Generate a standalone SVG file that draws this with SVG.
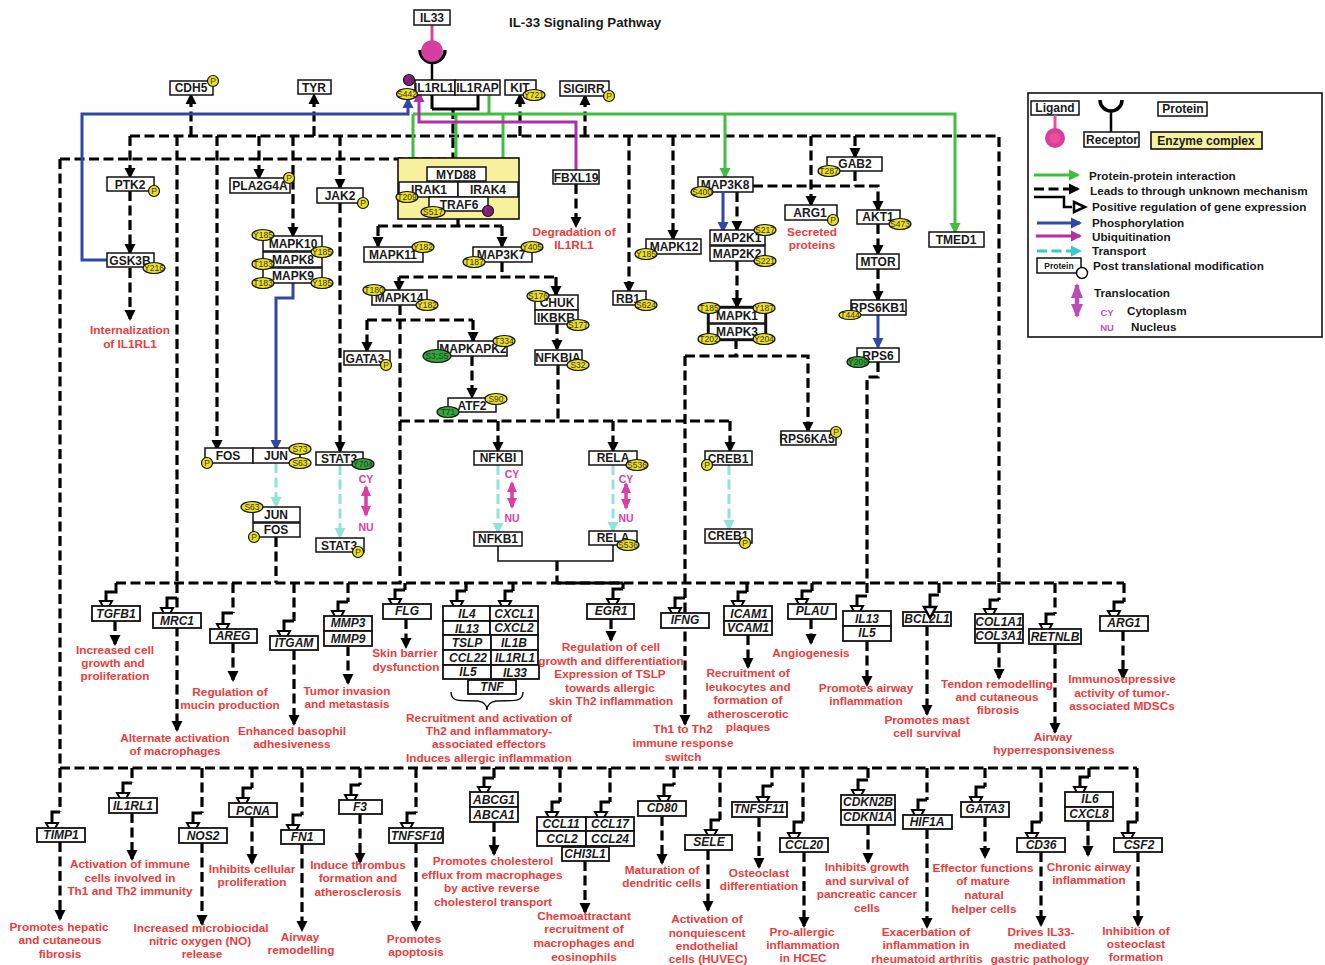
<svg xmlns="http://www.w3.org/2000/svg" width="1325" height="965" viewBox="0 0 1325 965">
<style>
text{font-family:"Liberation Sans",Arial,sans-serif;font-weight:bold;fill:#1a1a1a}
.t{font-size:12px;text-anchor:middle}
.g{font-size:12px;text-anchor:middle;font-style:italic}
.r{font-size:11.8px;text-anchor:middle;fill:#ef3b3b}
.l{font-size:11.7px}
.m{font-size:8.5px;font-weight:normal;text-anchor:middle;fill:#333}
.b{fill:#fff;stroke:#111;stroke-width:1.5}
.k{fill:#fff;stroke:#111;stroke-width:1.8}
.y{fill:#ecdf1e;stroke:#111;stroke-width:1.2}
.v{fill:#2ea836;stroke:#111;stroke-width:1.2}
.u{fill:#a3189a;stroke:#111;stroke-width:1.2}
.d,.s,.gr,.bl,.mg,.c{fill:none;stroke-width:3}
.d{stroke:#000;stroke-width:3.2;stroke-dasharray:10 4.5;marker-end:url(#a)}
.n{stroke:#000;fill:none;stroke-width:3.2;stroke-dasharray:10 4.5}
.s{stroke:#000;marker-end:url(#h)}
.gr{stroke:#3fbf3f;marker-end:url(#ag)}
.bl{stroke:#2f48a8;marker-end:url(#ab)}
.mg{stroke:#b02fa5;marker-end:url(#am)}
.c{stroke:#8fe3dc;stroke-dasharray:10 4.5;marker-end:url(#ac)}
.x{stroke:#d93fa6;stroke-width:3.5;fill:none;marker-start:url(#ap);marker-end:url(#ap)}
.cy{font-size:10.5px;text-anchor:middle;fill:#d93fa6}
</style>
<defs>
<marker id="a" markerUnits="userSpaceOnUse" markerWidth="12" markerHeight="12" refX="9" refY="6" orient="auto"><path d="M0,.5L11,6L0,11.5z" fill="#000"/></marker>
<marker id="ag" markerUnits="userSpaceOnUse" markerWidth="12" markerHeight="12" refX="9" refY="6" orient="auto"><path d="M0,.5L11,6L0,11.5z" fill="#3fbf3f"/></marker>
<marker id="ab" markerUnits="userSpaceOnUse" markerWidth="12" markerHeight="12" refX="9" refY="6" orient="auto"><path d="M0,.5L11,6L0,11.5z" fill="#2f48a8"/></marker>
<marker id="am" markerUnits="userSpaceOnUse" markerWidth="12" markerHeight="12" refX="9" refY="6" orient="auto"><path d="M0,.5L11,6L0,11.5z" fill="#b02fa5"/></marker>
<marker id="ac" markerUnits="userSpaceOnUse" markerWidth="12" markerHeight="12" refX="9" refY="6" orient="auto"><path d="M0,.5L11,6L0,11.5z" fill="#8fe3dc"/></marker>
<marker id="at" markerUnits="userSpaceOnUse" markerWidth="12" markerHeight="12" refX="9" refY="6" orient="auto"><path d="M0,.5L11,6L0,11.5z" fill="#3cc8c8"/></marker>
<marker id="ap" markerUnits="userSpaceOnUse" markerWidth="12" markerHeight="12" refX="9" refY="6" orient="auto-start-reverse"><path d="M0,1L11,6L0,11z" fill="#d93fa6"/></marker>
<marker id="h" markerUnits="userSpaceOnUse" markerWidth="18" markerHeight="18" refX="2" refY="8" orient="auto"><path d="M2,2L13,8L2,14z" fill="#fff" stroke="#000" stroke-width="2"/></marker>
</defs>
<rect width="1325" height="965" fill="#fff"/>
<text x="509" y="27" font-size="13.3" id="title">IL-33 Signaling Pathway</text>

<g id="connectors">
<path class="n" d="M453,109V159M60,159H453M60,159V768M130,136H999V583M60,768H1137M116,583H1124M177,136V583"/>
<path d="M557,583H623" stroke="#000" stroke-width="3"/>
<path class="d" d="M191,136V95"/><path class="d" d="M314,136V95"/><path class="d" d="M520,136V95"/><path class="d" d="M585,136V96"/>
<path class="d" d="M130,136V177"/><path class="d" d="M130,191V253"/><path class="d" d="M130,268V319"/>
<path class="d" d="M177,583V730"/><path class="d" d="M217,136V449"/><path class="d" d="M259,136V178"/><path class="d" d="M293,136V236"/>
<path class="d" d="M340,136V188"/><path class="d" d="M340,203V451"/>
<path class="d" d="M629,136V291"/><path class="d" d="M673,136V239"/><path class="d" d="M811,136V205"/><path class="d" d="M855,136V157"/>
<path class="n" d="M855,171V186"/><path class="d" d="M753,186H878V210"/>
<path class="d" d="M737,192V230"/><path class="d" d="M737,261V307"/><path class="n" d="M736,339V356"/>
<path class="d" d="M685,356H808V431"/><path class="d" d="M685,356V724"/>
<path class="d" d="M878,224V254"/><path class="d" d="M878,269V300"/><path class="n" d="M878,362V377H867V583"/>
<path class="n" d="M276,537V583"/>
<path class="n" d="M458,219V226M378,226H502"/><path class="d" d="M378,226V246"/><path class="d" d="M502,226V246"/>
<path class="n" d="M502,262V277M399,277H556"/><path class="d" d="M399,277V290"/><path class="d" d="M556,277V295"/>
<path class="n" d="M400,305V583M367,320H473M400,421H730M558,365V421"/>
<path class="d" d="M367,320V351"/><path class="d" d="M473,320V341"/><path class="d" d="M472,356V397"/><path class="d" d="M557,324V349"/>
<path class="d" d="M498,421V451"/><path class="d" d="M613,421V451"/><path class="d" d="M730,421V451"/>
<path class="d" d="M576,184V226"/>
<path d="M498,546V561H613V545" fill="none" stroke="#111" stroke-width="1.6"/><path class="n" d="M557,561V583"/>

<path class="gr" d="M413,114V180"/><path class="gr" d="M456,114V167"/><path class="gr" d="M503,114V180"/><path class="gr" d="M725,114V177"/>
<path class="gr" d="M413,114H955V232"/><path d="M489,95V114" stroke="#3fbf3f" stroke-width="3"/>
<path class="bl" d="M107,260H82V114H408V99"/><path class="bl" d="M723,193V231"/><path class="bl" d="M878,315V347"/><path class="bl" d="M293,283V298H276V449"/>
<path class="mg" d="M576,170V122H419V93"/>
<path class="c" d="M276,463V506"/><path class="c" d="M340,465V537"/><path class="c" d="M498,465V532"/><path class="c" d="M613,465V531"/><path class="c" d="M729,465V529"/>

<path d="M432,109V95M432,109H478V95" fill="none" stroke="#000" stroke-width="3"/>
<path d="M432,25V42" stroke="#d9439b" stroke-width="3"/>
<path d="M420,50A12.5,12.5 0 0 0 445,50" fill="none" stroke="#000" stroke-width="3.5"/><path d="M432,62V80" stroke="#000" stroke-width="2.5"/>

<path class="n" d="M233,583V613M294,583V621M348,583V602M405,583V590M466,583V591M513,583V591M623,583V589M747,583V592M812,583V591M867,583V596M939,583V595M999,583V600M1055,583V614M1124,583V602"/>
<path class="n" d="M60,768V812M132,768V783M202,768V813M252,768V788M302,768V815M360,768V785M416,768V813M494,768V778M560,768V802M610,768V802M674,768V785M720,768V820M772,768V786M803,768V822M868,768V780M927,768V800M985,768V787M1041,768V822M1089,768V777M1137,768V822"/>
<path class="s" d="M116,583V592H106V601"/><path class="s" d="M177,598H167V608"/><path class="s" d="M233,613H223V624"/><path class="s" d="M294,621H284V631"/><path class="s" d="M348,602H338V611"/><path class="s" d="M405,590H395V599"/><path class="s" d="M466,591H457V601"/><path class="s" d="M513,591H505V601"/><path class="s" d="M623,589H613V599"/><path class="s" d="M685,598H675V608"/><path class="s" d="M747,592H738V601"/><path class="s" d="M812,591H802V599"/><path class="s" d="M867,596H857V606"/><path class="s" d="M999,600H990V609"/><path class="s" d="M1055,614H1046V624"/><path class="s" d="M1124,602H1114V611"/>
<path d="M939,595H930V607" fill="none" stroke="#000" stroke-width="3"/>
<path class="s" d="M60,812H52V823"/><path class="s" d="M132,783H123V793"/><path class="s" d="M202,813H193V823"/><path class="s" d="M252,788H243V798"/><path class="s" d="M302,815H293V825"/><path class="s" d="M360,785H351V795"/><path class="s" d="M416,813H407V823"/><path class="s" d="M494,778H484V787"/><path class="s" d="M560,802H552V812"/><path class="s" d="M610,802H601V812"/><path class="s" d="M674,785H664V796"/><path class="s" d="M720,820H711V830"/><path class="s" d="M772,786H763V797"/><path class="s" d="M803,822H794V833"/><path class="s" d="M868,780H858V790"/><path class="s" d="M927,800H918V810"/><path class="s" d="M985,787H976V797"/><path class="s" d="M1041,822H1032V833"/><path class="s" d="M1089,777H1080V787"/><path class="s" d="M1137,822H1128V833"/>

<path class="d" d="M115,621V644"/><path class="d" d="M233,643V680"/><path class="d" d="M294,650V724"/><path class="d" d="M348,646V683"/><path class="d" d="M406,619V647"/><path class="d" d="M611,619V640"/><path class="d" d="M748,635V667"/><path class="d" d="M811,619V643"/><path class="d" d="M867,641V685"/><path class="d" d="M927,626V714"/><path class="d" d="M999,643V678"/><path class="d" d="M1055,644V732"/><path class="d" d="M1123,631V678"/>
<path class="d" d="M60,842V919"/><path class="d" d="M132,813V859"/><path class="d" d="M202,843V924"/><path class="d" d="M252,817V863"/><path class="d" d="M302,844V930"/><path class="d" d="M360,814V862"/><path class="d" d="M416,843V930"/><path class="d" d="M494,822V854"/><path class="d" d="M585,861V912"/><path class="d" d="M662,816V863"/><path class="d" d="M708,850V910"/><path class="d" d="M759,817V867"/><path class="d" d="M804,852V926"/><path class="d" d="M868,825V862"/><path class="d" d="M927,829V927"/><path class="d" d="M985,817V857"/><path class="d" d="M1041,852V925"/><path class="d" d="M1088,821V855"/><path class="d" d="M1138,852V925"/>
<path class="x" d="M366,487V515"/><path class="x" d="M512,483V507"/><path class="x" d="M626,484V508"/>
</g>

<g id="IL33"><rect class="b" x="414" y="10" width="36" height="15"/><text class="t" x="432" y="22">IL33</text></g>
<circle id="ligand" cx="432" cy="51" r="10.8" fill="#d43fa0"/>
<g id="IL1RL1-rec"><rect class="b" x="415" y="80" width="40" height="15"/><text class="t" x="434" y="92">IL1RL1</text><circle class="u" cx="409" cy="80" r="5.5"/><text class="m" x="409" y="83">Ub</text><ellipse class="y" cx="407" cy="94" rx="10.5" ry="5.5"/><text class="m" x="407" y="97">S442</text></g>
<g id="IL1RAP"><rect class="b" x="455" y="80" width="45" height="15"/><text class="t" x="477.5" y="92">IL1RAP</text></g>
<g id="KIT"><rect class="b" x="505" y="80" width="31" height="15"/><text class="t" x="520" y="92">KIT</text><ellipse class="y" cx="534" cy="95" rx="11" ry="5.5"/><text class="m" x="534" y="98">Y721</text></g>
<g id="SIGIRR"><rect class="b" x="560" y="81" width="49" height="15"/><text class="t" x="584" y="93">SIGIRR</text><circle class="y" cx="609" cy="96" r="5.5"/><text class="m" x="609" y="99">P</text></g>
<g id="CDH5"><rect class="b" x="170" y="81" width="43" height="14"/><text class="t" x="191" y="92">CDH5</text><circle class="y" cx="213" cy="81" r="5.5"/><text class="m" x="213" y="84">P</text></g>
<g id="TYR"><rect class="b" x="298" y="80" width="33" height="14"/><text class="t" x="314" y="92">TYR</text></g>
<g id="complex1"><rect x="398" y="158" width="121" height="61" fill="#f7f09c" stroke="#111" stroke-width="1.6"/><rect class="b" x="427" y="167" width="59" height="14"/><text class="t" x="456" y="179">MYD88</text><rect class="b" x="399" y="182" width="59" height="15"/><text class="t" x="429" y="194">IRAK1</text><rect class="b" x="458" y="182" width="60" height="15"/><text class="t" x="488" y="194">IRAK4</text><rect class="b" x="429" y="197" width="59" height="14"/><text class="t" x="459" y="209">TRAF6</text><ellipse class="y" cx="407" cy="197" rx="11" ry="5.5"/><text class="m" x="407" y="200">T209</text><ellipse class="y" cx="433" cy="212" rx="12" ry="5.5"/><text class="m" x="433" y="215">S517</text><circle class="u" cx="488" cy="211" r="5.5"/><text class="m" x="488" y="214">Ub</text></g>
<g id="FBXL19"><rect class="b" x="553" y="170" width="46" height="14"/><text class="t" x="576" y="182">FBXL19</text></g>
<g id="PTK2"><rect class="b" x="107" y="177" width="47" height="14"/><text class="t" x="130" y="189">PTK2</text><circle class="y" cx="154" cy="191" r="5.5"/><text class="m" x="154" y="194">P</text></g>
<g id="GSK3B"><rect class="b" x="107" y="253" width="47" height="14"/><text class="t" x="130" y="265">GSK3B</text><ellipse class="y" cx="154" cy="268" rx="11" ry="5.5"/><text class="m" x="154" y="271">Y216</text></g>
<g id="PLA2G4A"><rect class="b" x="230" y="178" width="60" height="15"/><text class="t" x="260" y="190">PLA2G4A</text><circle class="y" cx="289" cy="178" r="5.5"/><text class="m" x="289" y="181">P</text></g>
<g id="JAK2"><rect class="b" x="317" y="188" width="46" height="15"/><text class="t" x="340" y="200">JAK2</text><circle class="y" cx="363" cy="203" r="5.5"/><text class="m" x="363" y="206">P</text></g>
<g id="MAPK10-9"><rect class="b" x="263" y="236" width="59" height="15"/><text class="t" x="293" y="248">MAPK10</text><rect class="b" x="263" y="252" width="59" height="15"/><text class="t" x="293" y="264">MAPK8</text><rect class="b" x="263" y="268" width="59" height="15"/><text class="t" x="293" y="280">MAPK9</text><ellipse class="y" cx="263" cy="235" rx="11" ry="5.5"/><text class="m" x="263" y="238">Y185</text><ellipse class="y" cx="322" cy="252" rx="11" ry="5.5"/><text class="m" x="322" y="255">Y185</text><ellipse class="y" cx="263" cy="264" rx="11" ry="5.5"/><text class="m" x="263" y="267">T183</text><ellipse class="y" cx="263" cy="283" rx="11" ry="5.5"/><text class="m" x="263" y="286">T183</text><ellipse class="y" cx="322" cy="283" rx="11" ry="5.5"/><text class="m" x="322" y="286">Y185</text></g>
<g id="MAPK11"><rect class="b" x="364" y="247" width="59" height="15"/><text class="t" x="393" y="259">MAPK11</text><ellipse class="y" cx="423" cy="247" rx="11" ry="5.5"/><text class="m" x="423" y="250">Y182</text></g>
<g id="MAP3K7"><rect class="b" x="473" y="247" width="59" height="15"/><text class="t" x="501" y="259">MAP3K7</text><ellipse class="y" cx="474" cy="262" rx="11" ry="5.5"/><text class="m" x="474" y="265">T187</text><ellipse class="y" cx="532" cy="247" rx="11" ry="5.5"/><text class="m" x="532" y="250">Y405</text></g>
<g id="MAPK14"><rect class="b" x="372" y="290" width="55" height="15"/><text class="t" x="399" y="302">MAPK14</text><ellipse class="y" cx="374" cy="290" rx="11" ry="5.5"/><text class="m" x="374" y="293">T180</text><ellipse class="y" cx="427" cy="305" rx="11" ry="5.5"/><text class="m" x="427" y="308">Y182</text></g>
<g id="CHUK-IKBKB"><rect class="b" x="535" y="295" width="43" height="15"/><text class="t" x="557" y="307">CHUK</text><rect class="b" x="535" y="310" width="43" height="14"/><text class="t" x="556" y="322">IKBKB</text><ellipse class="y" cx="538" cy="296" rx="11" ry="5.5"/><text class="m" x="538" y="299">S176</text><ellipse class="y" cx="578" cy="325" rx="11" ry="5.5"/><text class="m" x="578" y="328">S177</text></g>
<g id="GATA3-n"><rect class="b" x="344" y="351" width="46" height="14"/><text class="t" x="365" y="363">GATA3</text><circle class="y" cx="386" cy="365" r="5.5"/><text class="m" x="386" y="368">P</text></g>
<g id="MAPKAPK2"><rect class="b" x="438" y="341" width="69" height="15"/><text class="t" x="473" y="353">MAPKAPK2</text><ellipse class="y" cx="504" cy="341" rx="11" ry="5.5"/><text class="m" x="504" y="344">T334</text><ellipse class="v" cx="437" cy="356" rx="14" ry="6.5"/><text class="m" x="437" y="359">S3;S5</text></g>
<g id="NFKBIA"><rect class="b" x="535" y="350" width="47" height="15"/><text class="t" x="558" y="362">NFKBIA</text><ellipse class="y" cx="578" cy="365" rx="11" ry="5.5"/><text class="m" x="578" y="368">S32</text></g>
<g id="ATF2"><rect class="b" x="448" y="398" width="48" height="14"/><text class="t" x="472" y="410">ATF2</text><ellipse class="y" cx="496" cy="399" rx="11" ry="5.5"/><text class="m" x="496" y="402">S90</text><ellipse class="v" cx="448" cy="412" rx="11" ry="5.5"/><text class="m" x="448" y="415">T71</text></g>
<g id="MAPK12"><rect class="b" x="646" y="239" width="55" height="15"/><text class="t" x="674" y="251">MAPK12</text><ellipse class="y" cx="646" cy="254" rx="11" ry="5.5"/><text class="m" x="646" y="257">Y185</text></g>
<g id="RB1"><rect class="b" x="613" y="291" width="33" height="14"/><text class="t" x="628" y="303">RB1</text><ellipse class="y" cx="646" cy="305" rx="11" ry="5.5"/><text class="m" x="646" y="308">S624</text></g>
<g id="MAP3K8"><rect class="b" x="698" y="177" width="55" height="15"/><text class="t" x="725" y="189">MAP3K8</text><ellipse class="y" cx="702" cy="192" rx="11" ry="5.5"/><text class="m" x="702" y="195">S400</text></g>
<g id="GAB2"><rect class="b" x="827" y="157" width="55" height="14"/><text class="t" x="855" y="168">GAB2</text><ellipse class="y" cx="829" cy="171" rx="11" ry="5.5"/><text class="m" x="829" y="174">T287</text></g>
<g id="ARG1-p"><rect class="b" x="785" y="205" width="52" height="15"/><text class="t" x="810" y="217">ARG1</text><circle class="y" cx="833" cy="220" r="5.5"/><text class="m" x="833" y="223">P</text></g>
<g id="AKT1"><rect class="b" x="857" y="210" width="43" height="14"/><text class="t" x="878" y="221">AKT1</text><ellipse class="y" cx="900" cy="224" rx="11" ry="5.5"/><text class="m" x="900" y="227">S473</text></g>
<g id="TMED1"><rect class="b" x="929" y="232" width="55" height="15"/><text class="t" x="956" y="244">TMED1</text></g>
<g id="MAP2K"><rect class="b" x="710" y="230" width="55" height="15"/><text class="t" x="737" y="242">MAP2K1</text><rect class="b" x="710" y="246" width="55" height="15"/><text class="t" x="737" y="258">MAP2K2</text><ellipse class="y" cx="765" cy="230" rx="11" ry="5.5"/><text class="m" x="765" y="233">S217</text><ellipse class="y" cx="765" cy="261" rx="11" ry="5.5"/><text class="m" x="765" y="264">S221</text></g>
<g id="MTOR"><rect class="b" x="857" y="254" width="42" height="15"/><text class="t" x="878" y="266">MTOR</text></g>
<g id="RPS6KB1"><rect class="b" x="851" y="300" width="55" height="15"/><text class="t" x="878" y="312">RPS6KB1</text><ellipse class="y" cx="850" cy="315" rx="11" ry="4.5"/><text class="m" x="850" y="318">T444</text></g>
<g id="RPS6"><rect class="b" x="857" y="348" width="42" height="14"/><text class="t" x="878" y="360">RPS6</text><ellipse class="v" cx="858" cy="362" rx="11" ry="5.5"/><text class="m" x="858" y="365">Y209</text></g>
<g id="MAPK1-3"><rect x="708" y="307" width="58" height="33" fill="#fff" stroke="#111" stroke-width="2.4"/><rect class="b" x="709" y="308" width="56" height="15"/><text class="t" x="737" y="320">MAPK1</text><rect class="b" x="709" y="324" width="56" height="15"/><text class="t" x="737" y="336">MAPK3</text><ellipse class="y" cx="709" cy="308" rx="11" ry="5.5"/><text class="m" x="709" y="311">T185</text><ellipse class="y" cx="764" cy="308" rx="11" ry="5.5"/><text class="m" x="764" y="311">Y187</text><ellipse class="y" cx="709" cy="339" rx="11" ry="5.5"/><text class="m" x="709" y="342">T202</text><ellipse class="y" cx="764" cy="339" rx="11" ry="5.5"/><text class="m" x="764" y="342">Y204</text></g>
<g id="RPS6KA5"><rect class="b" x="781" y="431" width="55" height="14"/><text class="t" x="807" y="443">RPS6KA5</text><circle class="y" cx="836" cy="432" r="5.5"/><text class="m" x="836" y="435">P</text></g>
<g id="FOS-JUN-c"><rect class="b" x="205" y="448" width="48" height="15"/><text class="t" x="228" y="460">FOS</text><rect class="b" x="253" y="448" width="47" height="15"/><text class="t" x="276" y="460">JUN</text><ellipse class="y" cx="300" cy="449" rx="11" ry="5.5"/><text class="m" x="300" y="452">S73</text><ellipse class="y" cx="300" cy="463" rx="11" ry="5.5"/><text class="m" x="300" y="466">S63</text><circle class="y" cx="207" cy="463" r="5.5"/><text class="m" x="207" y="466">P</text></g>
<g id="STAT3-c"><rect class="b" x="316" y="452" width="47" height="13"/><text class="t" x="339" y="463">STAT3</text><ellipse class="v" cx="363" cy="464" rx="11" ry="5.5"/><text class="m" x="363" y="467">Y704</text></g>
<g id="JUN-FOS-n"><rect class="b" x="253" y="507" width="47" height="15"/><text class="t" x="276" y="519">JUN</text><rect class="b" x="253" y="523" width="47" height="14"/><text class="t" x="276" y="534">FOS</text><ellipse class="y" cx="252" cy="507" rx="11" ry="5.5"/><text class="m" x="252" y="510">S63</text><circle class="y" cx="254" cy="537" r="5.5"/><text class="m" x="254" y="540">P</text></g>
<g id="STAT3-n"><rect class="b" x="316" y="538" width="48" height="14"/><text class="t" x="339" y="550">STAT3</text><circle class="y" cx="358" cy="552" r="5.5"/><text class="m" x="358" y="555">P</text></g>
<g id="NFKBI"><rect class="b" x="474" y="451" width="48" height="14"/><text class="t" x="498" y="462">NFKBI</text></g>
<g id="NFKB1"><rect class="b" x="474" y="532" width="48" height="14"/><text class="t" x="498" y="543">NFKB1</text></g>
<g id="RELA-c"><rect class="b" x="589" y="451" width="48" height="14"/><text class="t" x="613" y="462">RELA</text><ellipse class="y" cx="637" cy="465" rx="11" ry="5.5"/><text class="m" x="637" y="468">S536</text></g>
<g id="RELA-n"><rect class="b" x="589" y="531" width="48" height="14"/><text class="t" x="613" y="542">RELA</text><ellipse class="y" cx="628" cy="545" rx="11" ry="5.5"/><text class="m" x="628" y="548">S536</text></g>
<g id="CREB1-c"><rect class="b" x="705" y="451" width="47" height="14"/><text class="t" x="728" y="463">CREB1</text><circle class="y" cx="707" cy="465" r="5.5"/><text class="m" x="707" y="468">P</text></g>
<g id="CREB1-n"><rect class="b" x="705" y="529" width="47" height="14"/><text class="t" x="728" y="540">CREB1</text><circle class="y" cx="745" cy="543" r="5.5"/><text class="m" x="745" y="546">P</text></g>
<text class="cy" x="366" y="483">CY</text><text class="cy" x="366" y="531">NU</text><text class="cy" x="512" y="478">CY</text><text class="cy" x="512" y="522">NU</text><text class="cy" x="626" y="483">CY</text><text class="cy" x="626" y="522">NU</text>

<g id="TGFB1"><rect class="k" x="92" y="606" width="48" height="15"/><text class="g" x="116" y="618">TGFB1</text></g>
<g id="MRC1"><rect class="k" x="153" y="613" width="48" height="15"/><text class="g" x="177" y="625">MRC1</text></g>
<g id="AREG"><rect class="k" x="210" y="629" width="47" height="14"/><text class="g" x="233" y="640">AREG</text></g>
<g id="ITGAM"><rect class="k" x="270" y="636" width="48" height="14"/><text class="g" x="294" y="647">ITGAM</text></g>
<g id="MMP"><rect class="k" x="324" y="616" width="48" height="15"/><text class="g" x="348" y="627">MMP3</text><rect class="k" x="324" y="631" width="48" height="15"/><text class="g" x="348" y="643">MMP9</text></g>
<g id="FLG"><rect class="k" x="383" y="604" width="48" height="15"/><text class="g" x="407" y="615">FLG</text></g>
<g id="cytokines"><rect class="k" x="443" y="606" width="47" height="15"/><text class="g" x="467" y="618">IL4</text><rect class="k" x="490" y="606" width="48" height="15"/><text class="g" x="514" y="618">CXCL1</text><rect class="k" x="443" y="621" width="47" height="14"/><text class="g" x="467" y="633">IL13</text><rect class="k" x="490" y="621" width="48" height="14"/><text class="g" x="514" y="632">CXCL2</text><rect class="k" x="443" y="635" width="48" height="15"/><text class="g" x="467" y="647">TSLP</text><rect class="k" x="491" y="635" width="47" height="15"/><text class="g" x="514" y="647">IL1B</text><rect class="k" x="443" y="650" width="48" height="15"/><text class="g" x="468" y="662">CCL22</text><rect class="k" x="491" y="650" width="47" height="15"/><text class="g" x="515" y="662">IL1RL1</text><rect class="k" x="443" y="665" width="48" height="14"/><text class="g" x="468" y="676">IL5</text><rect class="k" x="491" y="665" width="48" height="14"/><text class="g" x="515" y="677">IL33</text><rect class="k" x="468" y="680" width="48" height="14"/><text class="g" x="492" y="691">TNF</text></g>
<path id="brace" d="M451,692C451,703 462,700 478,701C484,702 487,705 487,710C487,705 490,702 496,701C512,700 523,703 523,692" fill="none" stroke="#111" stroke-width="1.4"/>
<g id="EGR1"><rect class="k" x="587" y="604" width="47" height="15"/><text class="g" x="611" y="615">EGR1</text></g>
<g id="IFNG"><rect class="k" x="661" y="613" width="48" height="15"/><text class="g" x="685" y="624">IFNG</text></g>
<g id="ICAM1-VCAM1"><rect class="k" x="724" y="606" width="48" height="15"/><text class="g" x="749" y="618">ICAM1</text><rect class="k" x="724" y="621" width="48" height="14"/><text class="g" x="748" y="632">VCAM1</text></g>
<g id="PLAU"><rect class="k" x="788" y="604" width="48" height="15"/><text class="g" x="812" y="615">PLAU</text></g>
<g id="IL13-IL5"><rect class="k" x="843" y="611" width="48" height="15"/><text class="g" x="867" y="623">IL13</text><rect class="k" x="843" y="626" width="48" height="15"/><text class="g" x="867" y="637">IL5</text></g>
<g id="BCL2L1"><rect class="k" x="903" y="612" width="48" height="14"/><text class="g" x="927" y="623">BCL2L1</text></g>
<g id="COL"><rect class="k" x="975" y="614" width="48" height="15"/><text class="g" x="999" y="626">COL1A1</text><rect class="k" x="975" y="629" width="48" height="14"/><text class="g" x="999" y="640">COL3A1</text></g>
<g id="RETNLB"><rect class="k" x="1029" y="629" width="52" height="15"/><text class="g" x="1055" y="641">RETNLB</text></g>
<g id="ARG1"><rect class="k" x="1100" y="616" width="48" height="15"/><text class="g" x="1124" y="627">ARG1</text></g>
<g id="TIMP1"><rect class="k" x="37" y="828" width="48" height="14"/><text class="g" x="61" y="839">TIMP1</text></g>
<g id="IL1RL1-g"><rect class="k" x="109" y="798" width="48" height="15"/><text class="g" x="133" y="810">IL1RL1</text></g>
<g id="NOS2"><rect class="k" x="179" y="828" width="48" height="15"/><text class="g" x="203" y="840">NOS2</text></g>
<g id="PCNA"><rect class="k" x="229" y="803" width="48" height="14"/><text class="g" x="253" y="815">PCNA</text></g>
<g id="FN1"><rect class="k" x="281" y="830" width="43" height="14"/><text class="g" x="302" y="841">FN1</text></g>
<g id="F3"><rect class="k" x="339" y="800" width="43" height="14"/><text class="g" x="360" y="811">F3</text></g>
<g id="TNFSF10"><rect class="k" x="389" y="828" width="54" height="15"/><text class="g" x="417" y="840">TNFSF10</text></g>
<g id="ABC"><rect class="k" x="470" y="792" width="48" height="15"/><text class="g" x="494" y="804">ABCG1</text><rect class="k" x="470" y="807" width="48" height="15"/><text class="g" x="494" y="819">ABCA1</text></g>
<g id="CCL-group"><rect class="k" x="537" y="817" width="49" height="14"/><text class="g" x="561" y="828">CCL11</text><rect class="k" x="586" y="817" width="48" height="14"/><text class="g" x="610" y="828">CCL17</text><rect class="k" x="537" y="831" width="49" height="15"/><text class="g" x="562" y="843">CCL2</text><rect class="k" x="586" y="831" width="48" height="15"/><text class="g" x="610" y="843">CCL24</text><rect class="k" x="562" y="847" width="47" height="14"/><text class="g" x="585" y="858">CHI3L1</text></g>
<g id="CD80"><rect class="k" x="638" y="801" width="48" height="15"/><text class="g" x="662" y="812">CD80</text></g>
<g id="SELE"><rect class="k" x="685" y="835" width="47" height="15"/><text class="g" x="709" y="846">SELE</text></g>
<g id="TNFSF11"><rect class="k" x="732" y="802" width="55" height="15"/><text class="g" x="759" y="813">TNFSF11</text></g>
<g id="CCL20"><rect class="k" x="780" y="838" width="48" height="14"/><text class="g" x="804" y="849">CCL20</text></g>
<g id="CDKN"><rect class="k" x="841" y="795" width="54" height="15"/><text class="g" x="868" y="806">CDKN2B</text><rect class="k" x="841" y="810" width="54" height="15"/><text class="g" x="868" y="821">CDKN1A</text></g>
<g id="HIF1A"><rect class="k" x="903" y="815" width="49" height="14"/><text class="g" x="927" y="826">HIF1A</text></g>
<g id="GATA3"><rect class="k" x="961" y="802" width="48" height="15"/><text class="g" x="985" y="813">GATA3</text></g>
<g id="CD36"><rect class="k" x="1017" y="838" width="48" height="14"/><text class="g" x="1041" y="849">CD36</text></g>
<g id="IL6-CXCL8"><rect class="k" x="1065" y="792" width="48" height="15"/><text class="g" x="1090" y="803">IL6</text><rect class="k" x="1065" y="807" width="48" height="14"/><text class="g" x="1089" y="818">CXCL8</text></g>
<g id="CSF2"><rect class="k" x="1114" y="838" width="48" height="14"/><text class="g" x="1139" y="849">CSF2</text></g>

<path id="bcl-head" d="M924,607H936L930,618z" fill="#fff" stroke="#000" stroke-width="2.5"/>

<g id="outcomes">
<text class="r" x="130" y="334">Internalization</text><text class="r" x="130" y="348">of IL1RL1</text>
<text class="r" x="574" y="236">Degradation of</text><text class="r" x="574" y="249">IL1RL1</text>
<text class="r" x="812" y="236">Secreted</text><text class="r" x="812" y="249">proteins</text>
<text class="r" x="115" y="654">Increased cell</text><text class="r" x="113" y="667">growth and</text><text class="r" x="115" y="680">proliferation</text>
<text class="r" x="230" y="696">Regulation of</text><text class="r" x="230" y="709">mucin production</text>
<text class="r" x="347" y="695">Tumor invasion</text><text class="r" x="347" y="708">and metastasis</text>
<text class="r" x="405" y="657">Skin barrier</text><text class="r" x="406" y="671">dysfunction</text>
<text class="r" x="175" y="742">Alternate activation</text><text class="r" x="175" y="755">of macrophages</text>
<text class="r" x="292" y="735">Enhanced basophil</text><text class="r" x="292" y="748">adhesiveness</text>
<text class="r" x="489" y="722">Recruitment and activation of</text><text class="r" x="489" y="735">Th2 and inflammatory-</text><text class="r" x="489" y="748">associated effectors</text><text class="r" x="489" y="762">Induces allergic inflammation</text>
<text class="r" x="611" y="651">Regulation of cell</text><text class="r" x="611" y="665">growth and differentiation</text><text class="r" x="610" y="678">Expression of TSLP</text><text class="r" x="610" y="692">towards allergic</text><text class="r" x="611" y="705">skin Th2 inflammation</text>
<text class="r" x="748" y="677">Recruitment of</text><text class="r" x="748" y="691">leukocytes and</text><text class="r" x="748" y="704">formation of</text><text class="r" x="748" y="718">atheroscerotic</text><text class="r" x="748" y="731">plaques</text>
<text class="r" x="683" y="733">Th1 to Th2</text><text class="r" x="683" y="747">immune response</text><text class="r" x="683" y="761">switch</text>
<text class="r" x="811" y="657">Angiogenesis</text>
<text class="r" x="866" y="692">Promotes airway</text><text class="r" x="866" y="705">inflammation</text>
<text class="r" x="927" y="724">Promotes mast</text><text class="r" x="927" y="737">cell survival</text>
<text class="r" x="997" y="688">Tendon remodelling</text><text class="r" x="997" y="701">and cutaneous</text><text class="r" x="998" y="714">fibrosis</text>
<text class="r" x="1053" y="741">Airway</text><text class="r" x="1054" y="754">hyperresponsiveness</text>
<text class="r" x="1122" y="683">Immunosupressive</text><text class="r" x="1122" y="697">activity of tumor-</text><text class="r" x="1122" y="710">associated MDSCs</text>
<text class="r" x="130" y="868">Activation of immune</text><text class="r" x="130" y="882">cells involved in</text><text class="r" x="130" y="895">Th1 and Th2 immunity</text>
<text class="r" x="252" y="873">Inhibits cellular</text><text class="r" x="252" y="886">proliferation</text>
<text class="r" x="358" y="869">Induce thrombus</text><text class="r" x="358" y="882">formation and</text><text class="r" x="358" y="896">atherosclerosis</text>
<text class="r" x="59" y="931">Promotes hepatic</text><text class="r" x="60" y="944">and cutaneous</text><text class="r" x="60" y="958">fibrosis</text>
<text class="r" x="201" y="932">Increased microbiocidal</text><text class="r" x="200" y="945">nitric oxygen (NO)</text><text class="r" x="202" y="958">release</text>
<text class="r" x="300" y="941">Airway</text><text class="r" x="301" y="954">remodelling</text>
<text class="r" x="414" y="943">Promotes</text><text class="r" x="416" y="956">apoptosis</text>
<text class="r" x="493" y="865">Promotes cholesterol</text><text class="r" x="492" y="879">efflux from macrophages</text><text class="r" x="492" y="892">by active reverse</text><text class="r" x="493" y="906">cholesterol transport</text>
<text class="r" x="584" y="920">Chemoattractant</text><text class="r" x="584" y="933">recruitment of</text><text class="r" x="584" y="947">macrophages and</text><text class="r" x="584" y="961">eosinophils</text>
<text class="r" x="662" y="874">Maturation of</text><text class="r" x="662" y="887">dendritic cells</text>
<text class="r" x="759" y="877">Osteoclast</text><text class="r" x="759" y="890">differentiation</text>
<text class="r" x="707" y="923">Activation of</text><text class="r" x="707" y="937">nonquiescent</text><text class="r" x="707" y="950">endothelial</text><text class="r" x="708" y="963">cells (HUVEC)</text>
<text class="r" x="802" y="936">Pro-allergic</text><text class="r" x="803" y="949">inflammation</text><text class="r" x="803" y="962">in HCEC</text>
<text class="r" x="867" y="871">Inhibits growth</text><text class="r" x="867" y="885">and survival of</text><text class="r" x="867" y="898">pancreatic cancer</text><text class="r" x="867" y="912">cells</text>
<text class="r" x="926" y="936">Exacerbation of</text><text class="r" x="926" y="949">inflammation in</text><text class="r" x="927" y="963">rheumatoid arthritis</text>
<text class="r" x="983" y="872">Effector functions</text><text class="r" x="983" y="885">of mature</text><text class="r" x="984" y="899">natural</text><text class="r" x="984" y="913">helper cells</text>
<text class="r" x="1041" y="936">Drives IL33-</text><text class="r" x="1040" y="949">mediated</text><text class="r" x="1040" y="963">gastric pathology</text>
<text class="r" x="1089" y="871">Chronic airway</text><text class="r" x="1089" y="884">inflammation</text>
<text class="r" x="1136" y="935">Inhibition of</text><text class="r" x="1136" y="948">osteoclast</text><text class="r" x="1136" y="961">formation</text>
</g>

<g id="legend">
<rect x="1028" y="93" width="294" height="244" fill="none" stroke="#111" stroke-width="1.6"/>
<rect class="b" x="1031" y="101" width="48" height="14"/><text class="t" x="1055" y="112">Ligand</text>
<path d="M1055,115V130" stroke="#ef4c9b" stroke-width="3"/><circle cx="1055" cy="138" r="10" fill="#d43fa0"/><circle cx="1055" cy="138" r="5.5" fill="#ef4c9b"/>
<path d="M1100,100A11,11 0 0 0 1122,100" fill="none" stroke="#000" stroke-width="3.5"/><path d="M1111,111V132" stroke="#000" stroke-width="2.5"/>
<rect class="b" x="1084" y="132" width="55" height="15"/><text class="t" x="1112" y="144">Receptor</text>
<rect class="b" x="1158" y="102" width="49" height="14"/><text class="t" x="1183" y="113">Protein</text>
<rect x="1151" y="132" width="111" height="17" fill="#f7f09c" stroke="#111" stroke-width="1.6"/><text class="t" x="1206" y="145">Enzyme complex</text>
<path class="gr" d="M1034,175H1078"/><text class="l" x="1089" y="180">Protein-protein interaction</text>
<path class="d" d="M1034,189H1078"/><text class="l" x="1090" y="195">Leads to through unknown mechanism</text>
<path d="M1034,197H1064V207H1072" fill="none" stroke="#000" stroke-width="2.5"/><path d="M1074,202L1085,207L1074,212z" fill="#fff" stroke="#000" stroke-width="2.5"/><text class="l" x="1092" y="211">Positive regulation of gene expression</text>
<path class="bl" d="M1037,223H1080"/><text class="l" x="1092" y="227">Phosphorylation</text>
<path class="mg" d="M1036,236H1080"/><text class="l" x="1092" y="241">Ubiquitination</text>
<path d="M1037,251H1080" fill="none" stroke="#3cc8c8" stroke-width="3" stroke-dasharray="10 4.5" marker-end="url(#at)"/><text class="l" x="1092" y="255">Transport</text>
<rect class="b" x="1037" y="258" width="44" height="15"/><text x="1059" y="269" font-size="8.5" text-anchor="middle">Protein</text><circle cx="1082" cy="273" r="5.5" fill="#fff" stroke="#111" stroke-width="1.5"/><text class="l" x="1093" y="270">Post translational modification</text>
<path d="M1077,285V316" stroke="#b84db8" stroke-width="4.5"/><path d="M1071,298L1077,283L1083,298zM1071,304L1077,318L1083,304z" fill="#b84db8"/>
<text class="l" x="1094" y="297">Translocation</text>
<text x="1107" y="316" font-size="9.5" text-anchor="middle" style="fill:#c050c0">CY</text><text class="l" x="1127" y="315">Cytoplasm</text>
<text x="1107" y="331" font-size="9.5" text-anchor="middle" style="fill:#c050c0">NU</text><text class="l" x="1131" y="331">Nucleus</text>
</g>
</svg>
